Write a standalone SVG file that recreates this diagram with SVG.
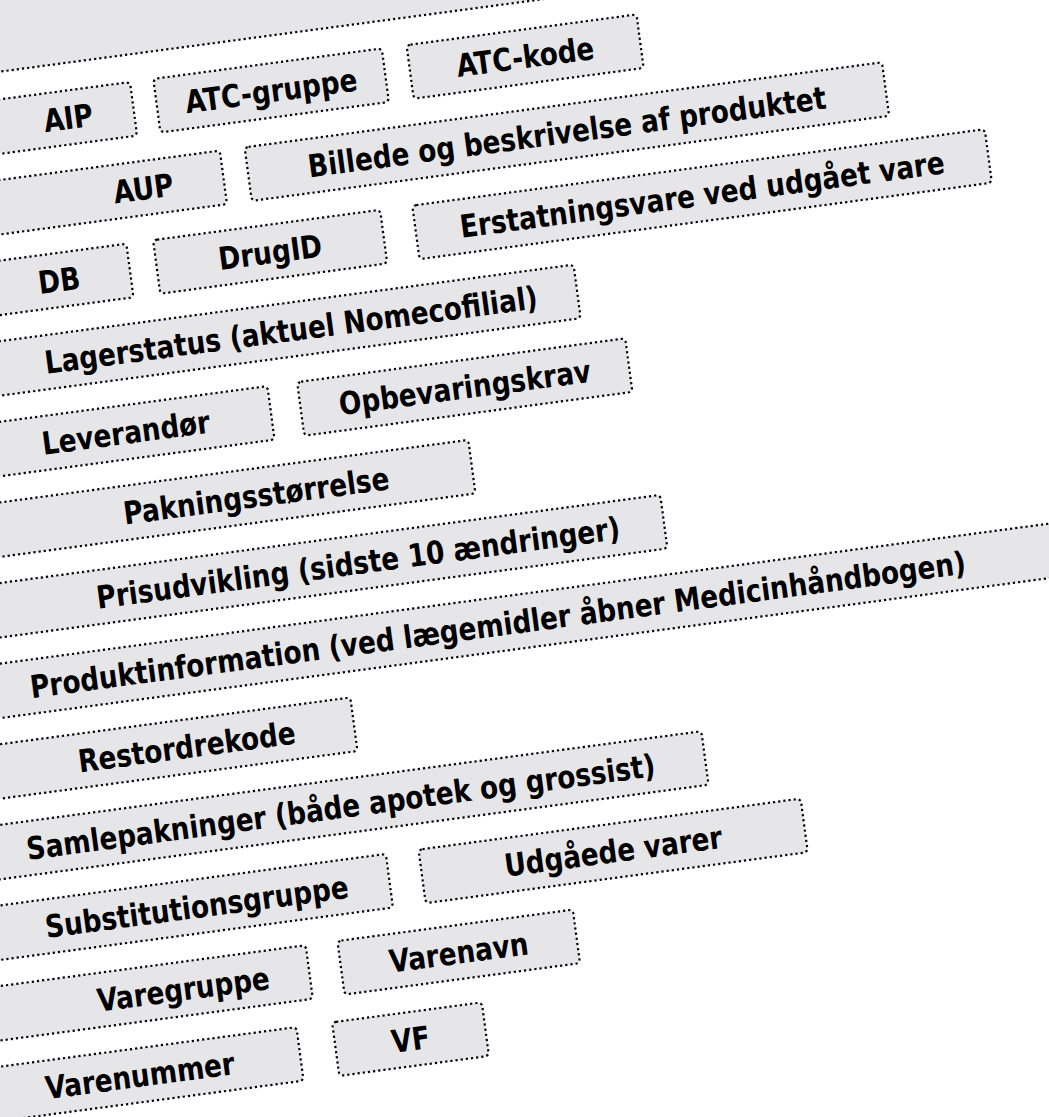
<svg xmlns="http://www.w3.org/2000/svg" width="1049" height="1117" viewBox="0 0 1049 1117">
<style>
.tag{fill:#e6e6e8;stroke:#000;stroke-width:2.2;stroke-dasharray:2.2 3}
.t{font-family:"DejaVu Sans Condensed","DejaVu Sans",sans-serif;font-stretch:condensed;font-weight:bold;font-size:31.5px;fill:#000}
.c{text-anchor:middle}
</style>
<rect width="1049" height="1117" fill="#fff"/>
<g transform="rotate(-7.6)">
<g id="header"><rect class="tag" x="-300" y="-400" width="1400" height="471" rx="4"/></g>
<g id="n-aip"><rect class="tag" x="-300" y="98.5" width="418" height="54" rx="4"/><text class="t" transform="scale(0.93,1)" x="29.35" y="137">AIP</text></g>
<g id="n-atc-gruppe"><rect class="tag" x="141.5" y="98.5" width="230.5" height="54" rx="4"/><text class="t c" transform="scale(0.93,1)" x="276.08" y="137">ATC-gruppe</text></g>
<g id="n-atc-kode"><rect class="tag" x="397" y="98.5" width="232" height="54" rx="4"/><text class="t c" transform="scale(0.93,1)" x="551.61" y="137">ATC-kode</text></g>
<g id="n-aup"><rect class="tag" x="-300" y="178.4" width="498" height="54" rx="4"/><text class="t" transform="scale(0.93,1)" x="93.55" y="216.9">AUP</text></g>
<g id="n-billede"><rect class="tag" x="223" y="178.4" width="643" height="54" rx="4"/><text class="t c" transform="scale(0.93,1)" x="585.48" y="216.9">Billede og beskrivelse af produktet</text></g>
<g id="n-db"><rect class="tag" x="-300" y="258.3" width="393" height="54" rx="4"/><text class="t" transform="scale(0.93,1)" x="0.65" y="296.8">DB</text></g>
<g id="n-drugid"><rect class="tag" x="120" y="258.3" width="229" height="54" rx="4"/><text class="t c" transform="scale(0.93,1)" x="252.15" y="296.8">DrugID</text></g>
<g id="n-erstatning"><rect class="tag" x="381.5" y="258.3" width="577.5" height="54" rx="4"/><text class="t c" transform="scale(0.93,1)" x="720.7" y="296.8">Erstatningsvare ved udgået vare</text></g>
<g id="n-lagerstatus"><rect class="tag" x="-300" y="338.2" width="833.5" height="54" rx="4"/><text class="t" transform="scale(0.93,1)" x="-3.87" y="376.7">Lagerstatus (aktuel Nomecofilial)</text></g>
<g id="n-leverandor"><rect class="tag" x="-300" y="418.1" width="514" height="54" rx="4"/><text class="t" transform="scale(0.93,1)" x="-18.39" y="456.6">Leverandør</text></g>
<g id="n-opbevaring"><rect class="tag" x="244" y="418.1" width="331" height="54" rx="4"/><text class="t c" transform="scale(0.93,1)" x="440.32" y="456.6">Opbevaringskrav</text></g>
<g id="n-pakning"><rect class="tag" x="-300" y="498" width="706" height="54" rx="4"/><text class="t" transform="scale(0.93,1)" x="58.6" y="536.5">Pakningsstørrelse</text></g>
<g id="n-pris"><rect class="tag" x="-300" y="577.9" width="889" height="54" rx="4"/><text class="t" transform="scale(0.93,1)" x="17.96" y="616.4">Prisudvikling (sidste 10 ændringer)</text></g>
<g id="n-produkt"><rect class="tag" x="-300" y="657.8" width="1400" height="54" rx="4"/><text class="t" transform="scale(0.93,1)" x="-65.59" y="696.3">Produktinformation (ved lægemidler åbner Medicinhåndbogen)</text></g>
<g id="n-restordre"><rect class="tag" x="-300" y="737.7" width="555" height="54" rx="4"/><text class="t" transform="scale(0.93,1)" x="-24.95" y="776.2">Restordrekode</text></g>
<g id="n-samle"><rect class="tag" x="-300" y="817.6" width="898.5" height="54" rx="4"/><text class="t" transform="scale(0.93,1)" x="-92.37" y="856.1">Samlepakninger (både apotek og grossist)</text></g>
<g id="n-subst"><rect class="tag" x="-300" y="897.5" width="569.5" height="54" rx="4"/><text class="t" transform="scale(0.93,1)" x="-83.66" y="936">Substitutionsgruppe</text></g>
<g id="n-udgaede"><rect class="tag" x="302.5" y="897.5" width="385.5" height="54" rx="4"/><text class="t c" transform="scale(0.93,1)" x="532.53" y="936">Udgåede varer</text></g>
<g id="n-varegruppe"><rect class="tag" x="-300" y="977.4" width="478" height="54" rx="4"/><text class="t" transform="scale(0.93,1)" x="-38.71" y="1015.9">Varegruppe</text></g>
<g id="n-varenavn"><rect class="tag" x="210" y="977.4" width="237.5" height="54" rx="4"/><text class="t c" transform="scale(0.93,1)" x="353.49" y="1015.9">Varenavn</text></g>
<g id="n-varenummer"><rect class="tag" x="-300" y="1057.3" width="458" height="54" rx="4"/><text class="t" transform="scale(0.93,1)" x="-106.34" y="1095.8">Varenummer</text></g>
<g id="n-vf"><rect class="tag" x="194" y="1057.3" width="151" height="54" rx="4"/><text class="t c" transform="scale(0.93,1)" x="289.78" y="1095.8">VF</text></g>
</g>
<g id="connectors"/>
</svg>
